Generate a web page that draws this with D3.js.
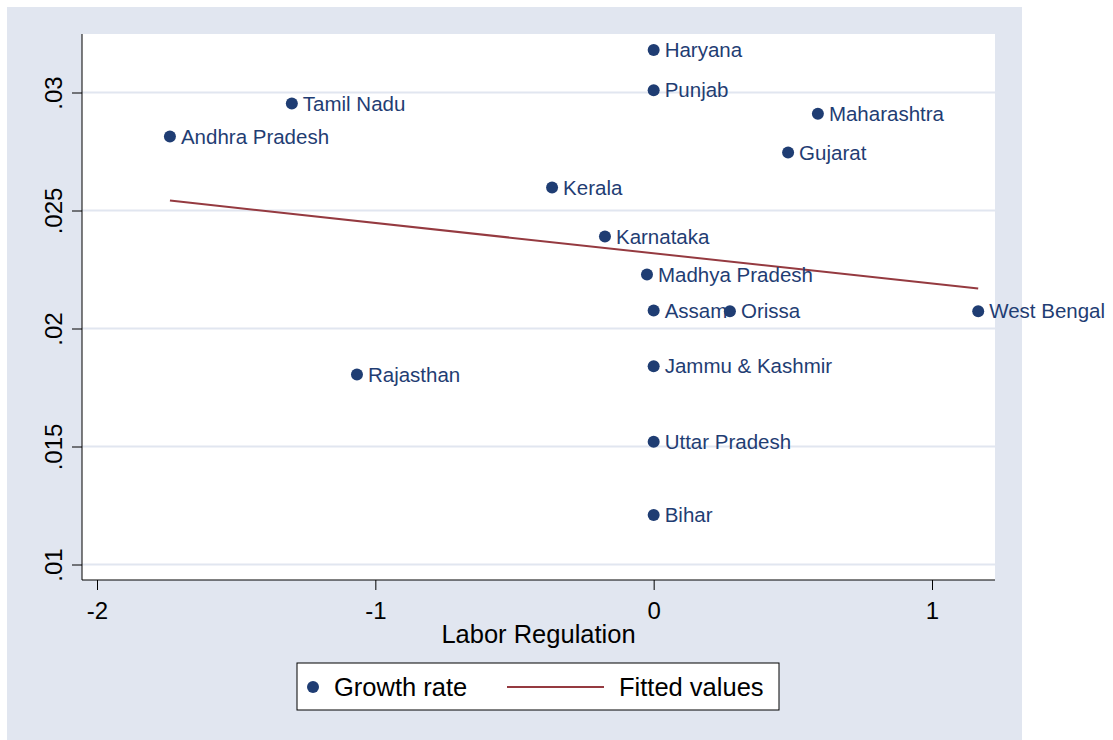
<!DOCTYPE html>
<html>
<head>
<meta charset="utf-8">
<script src="https://cdn.jsdelivr.net/npm/d3@7"></script>
<style>
  body { margin: 0; background: #fff; }
  text { font-family: "Liberation Sans", Arial, sans-serif; }
</style>
</head>
<body>
<script>
// states, labor regulation score and growth rate
var states = ["Haryana","Punjab","Tamil Nadu","Andhra Pradesh","Maharashtra","Gujarat","Kerala",
  "Karnataka","Madhya Pradesh","Assam","Orissa","West Bengal","Rajasthan","Jammu & Kashmir",
  "Uttar Pradesh","Bihar"];
var laborReg = [0, 0, -1.30, -1.738, 0.59, 0.483, -0.365, -0.175, -0.024, 0, 0.274, 1.166, -1.066, 0, 0, 0];
var growth = [0.0318, 0.0301, 0.02953, 0.02814, 0.0291, 0.02746, 0.02597, 0.0239, 0.02229,
  0.02076, 0.02073, 0.02073, 0.01805, 0.0184, 0.0152, 0.0121];

// fitted line end points
var fitX = [-1.738, 1.166];
var fitY = [0.02542, 0.02169];

var xTicks = [-2, -1, 0, 1];
var yTicks = [0.01, 0.015, 0.02, 0.025, 0.03];
var yTickLabels = [".01", ".015", ".02", ".025", ".03"];

var width = 1113, height = 740;
var navy = "#1f3d73", maroon = "#953a40", bg = "#e1e6f0";
var plot = {left: 82, right: 995, top: 34, bottom: 580};

var svg = d3.select("body").append("svg").attr("width", width).attr("height", height);

// graph region
svg.append("rect").attr("x", 7).attr("y", 7).attr("width", 1015).attr("height", height - 7).attr("fill", bg);
svg.append("rect").attr("x", plot.left).attr("y", plot.top)
  .attr("width", plot.right - plot.left).attr("height", plot.bottom - plot.top).attr("fill", "#fff");

var x = d3.scaleLinear().domain([-2, 1]).range([97, 932]);
var y = d3.scaleLinear().domain([0.01, 0.03]).range([564.5, 92.5]);

// grid
svg.append("g").selectAll("line")
  .data(yTicks)
  .enter().append("line")
    .attr("x1", plot.left).attr("x2", plot.right)
    .attr("y1", function(d){ return y(d); }).attr("y2", function(d){ return y(d); })
    .attr("stroke", bg).attr("stroke-width", 2);

// y axis
var yAxis = svg.append("g").attr("transform", "translate(" + plot.left + ",0)")
  .call(d3.axisLeft(y).tickValues(yTicks).tickSize(10).tickSizeOuter(0).tickFormat(function(d, i){ return yTickLabels[i]; }));
yAxis.select(".domain").attr("d", "M0," + plot.top + "V" + plot.bottom).attr("stroke", "#000");
yAxis.selectAll(".tick text")
  .attr("font-size", 24).attr("fill", "#000")
  .attr("text-anchor", "middle").attr("dy", 0)
  .attr("transform", "translate(-20,0) rotate(-90)")
  .attr("x", 0).attr("y", 0);

// x axis (plain hyphen for negatives, like the original)
var xAxis = svg.append("g").attr("transform", "translate(0," + plot.bottom + ")")
  .call(d3.axisBottom(x).tickValues(xTicks).tickSize(10).tickSizeOuter(0).tickFormat(function(d){ return String(d); }));
xAxis.select(".domain").attr("d", "M" + plot.left + ",0H" + plot.right).attr("stroke", "#000");
xAxis.selectAll(".tick text").attr("font-size", 24).attr("fill", "#000").attr("y", 39).attr("dy", 0);

svg.append("text").attr("x", (plot.left + plot.right) / 2).attr("y", 643)
  .attr("text-anchor", "middle").attr("font-size", 25.5).text("Labor Regulation");

// fitted line
svg.append("line")
  .attr("x1", x(fitX[0])).attr("y1", y(fitY[0]))
  .attr("x2", x(fitX[1])).attr("y2", y(fitY[1]))
  .attr("stroke", maroon).attr("stroke-width", 2);

// points
var pts = svg.append("g").selectAll("g")
  .data(states)
  .enter().append("g")
    .attr("transform", function(d, i){ return "translate(" + x(laborReg[i]) + "," + y(growth[i]) + ")"; });
pts.append("circle").attr("r", 6).attr("fill", navy);
pts.append("text").attr("x", 11).attr("dy", "0.35em")
  .attr("font-size", 20.5).attr("fill", navy)
  .text(function(d){ return d; });

// legend
var leg = svg.append("g");
leg.append("rect").attr("x", 297).attr("y", 663).attr("width", 482).attr("height", 47)
  .attr("fill", "#fff").attr("stroke", "#000").attr("stroke-width", 1);
leg.append("circle").attr("cx", 313).attr("cy", 687).attr("r", 6).attr("fill", navy);
leg.append("text").attr("x", 334).attr("y", 696).attr("font-size", 25.5).text("Growth rate");
leg.append("line").attr("x1", 507).attr("x2", 604).attr("y1", 687).attr("y2", 687)
  .attr("stroke", maroon).attr("stroke-width", 2);
leg.append("text").attr("x", 619).attr("y", 696).attr("font-size", 25.5).text("Fitted values");
</script>
</body>
</html>
